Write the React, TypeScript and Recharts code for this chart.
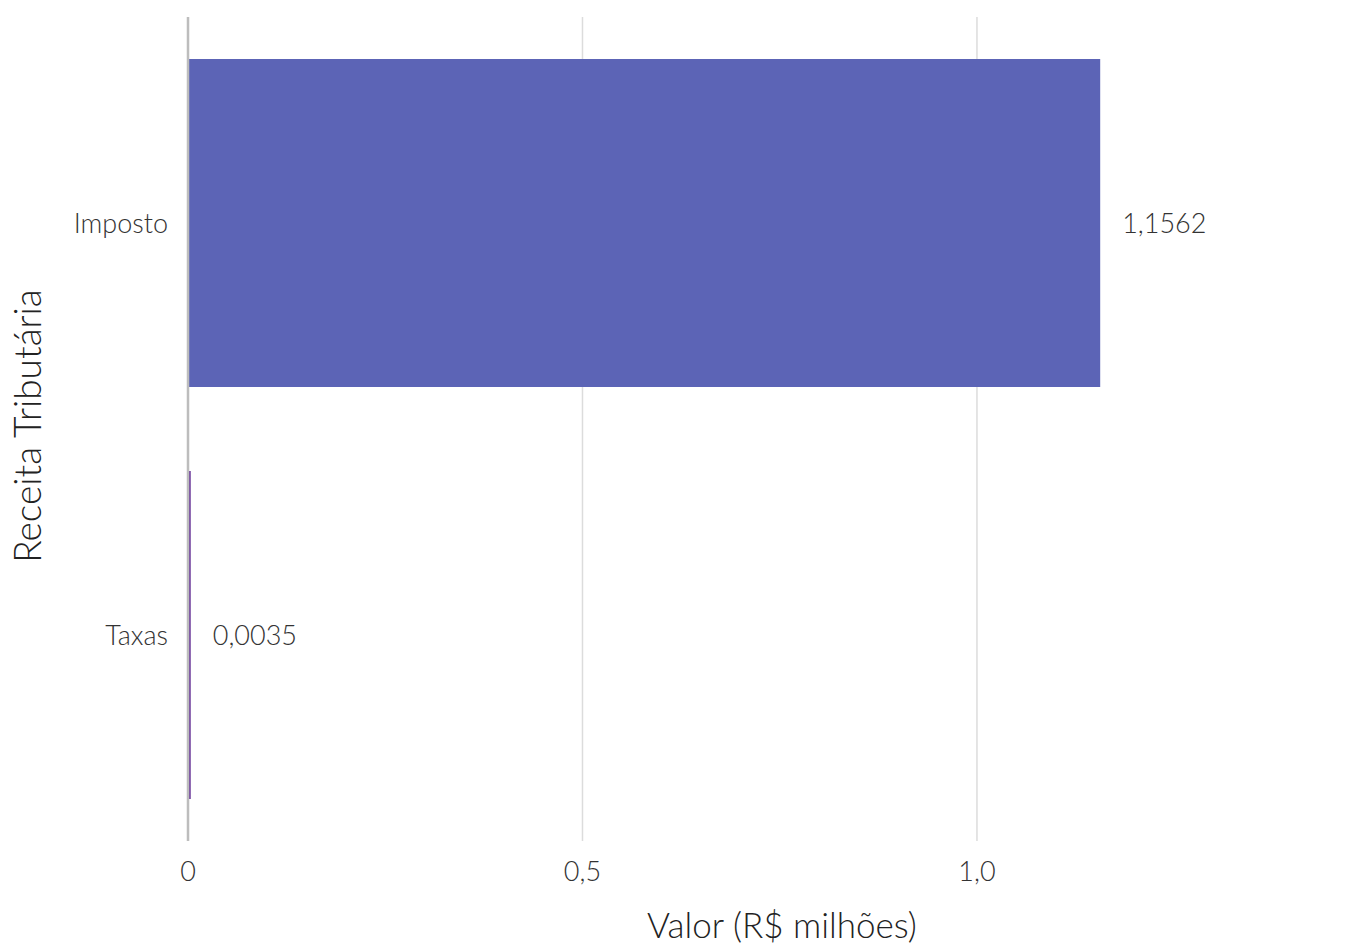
import {
  BarChart,
  Bar,
  XAxis,
  YAxis,
  CartesianGrid,
  Cell,
  LabelList,
  Label,
  ReferenceLine,
} from "recharts";

const categories = ["Imposto", "Taxas"];
const values = [1.1562, 0.0035];
const colors = ["#5C64B6", "#6E3D9C"];
const xTicks = [0, 0.5, 1.0];

const data = categories.map((name, i) => ({ name, value: values[i] }));

const FONT = "Lato, 'Open Sans', sans-serif";
const fmt = (v: number) => (v === 0 ? "0" : v.toFixed(1).replace(".", ","));
const textStyle = { fontSize: 27, fill: "#333", fontWeight: 300, fontFamily: FONT };
const titleStyle = { fontSize: 35, fill: "#222", fontWeight: 300, fontFamily: FONT };

export default function App() {
  return (
    <div style={{ position: "absolute", left: 0, top: 0, fontFamily: FONT }}>
      <BarChart
        width={1362}
        height={946}
        data={data}
        layout="vertical"
        margin={{ top: 17, right: 30, left: 0, bottom: 0 }}
      >
        <CartesianGrid horizontal={false} stroke="#dcdcdc" strokeWidth={1.5} syncWithTicks />
        <XAxis
          type="number"
          domain={[0, 1.45]}
          ticks={xTicks}
          tickFormatter={fmt}
          axisLine={false}
          tickLine={false}
          height={105}
          tickMargin={15}
          tick={textStyle}
        >
          <Label
            content={() => (
              <text x={782} y={924} textAnchor="middle" dominantBaseline="central" style={titleStyle}>
                Valor (R$ milhões)
              </text>
            )}
          />
        </XAxis>
        <YAxis
          type="category"
          dataKey="name"
          width={188}
          axisLine={false}
          tickLine={false}
          tickMargin={14}
          tick={textStyle}
        >
          <Label
            content={() => (
              <text
                x={26}
                y={426}
                textAnchor="middle"
                dominantBaseline="central"
                transform="rotate(-90 26 426)"
                style={{ ...titleStyle, fontSize: 37 }}
              >
                Receita Tributária
              </text>
            )}
          />
        </YAxis>
        <ReferenceLine x={0} stroke="#bdbdbd" strokeWidth={2.5} />
        <Bar dataKey="value" barSize={328} isAnimationActive={false}>
          {data.map((d, i) => (
            <Cell key={d.name} fill={colors[i]} />
          ))}
          <LabelList
            dataKey="value"
            position="right"
            offset={22}
            formatter={(v: number) => v.toFixed(4).replace(".", ",")}
            style={textStyle}
          />
        </Bar>
      </BarChart>
    </div>
  );
}
